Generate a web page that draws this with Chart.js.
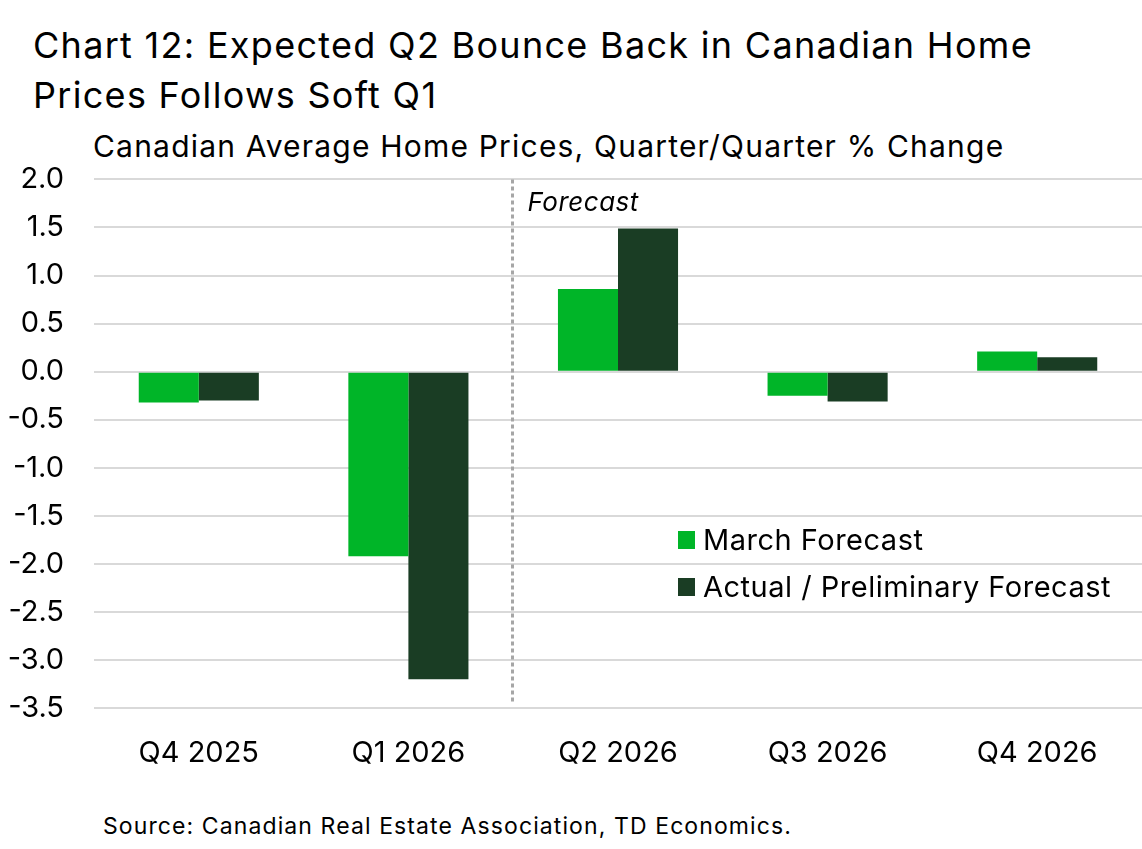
<!DOCTYPE html>
<html>
<head>
<meta charset="utf-8">
<script src="https://cdn.jsdelivr.net/npm/chart.js@4"></script>
<style>
  body { margin: 0; background: #fff; font-family: Inter, sans-serif; color: #000; }
  #title { position: absolute; left: 33px; top: 20px; font-size: 36px; line-height: 50px; letter-spacing: 1.3px; }
  #sub { position: absolute; left: 93px; top: 128px; font-size: 30px; line-height: 36px; letter-spacing: 1.2px; }
  #wrap { position: absolute; left: 0; top: 132px; width: 1142px; height: 679px; }
  #src { position: absolute; left: 103px; top: 812px; font-size: 23px; line-height: 28px; letter-spacing: 1.1px; }
</style>
</head>
<body>
<div id="title">Chart 12: Expected Q2 Bounce Back in Canadian Home<br>Prices Follows Soft Q1</div>
<div id="sub">Canadian Average Home Prices, Quarter/Quarter % Change</div>
<div id="wrap"><canvas id="chart"></canvas></div>
<div id="src">Source: Canadian Real Estate Association, TD Economics.</div>
<script>
const quarters = ['Q4 2025', 'Q1 2026', 'Q2 2026', 'Q3 2026', 'Q4 2026'];
const marchForecast = [-0.32, -1.92, 0.86, -0.25, 0.21];
const actualPrelim = [-0.30, -3.20, 1.49, -0.31, 0.15];
const yMin = -3.5, yMax = 2.0, yStep = 0.5;
const forecastStart = 2; // first forecast category index

const font = 'Inter, sans-serif';

// dotted divider, "Forecast" label and legend drawn inside the plot
const extras = {
  id: 'extras',
  afterDatasetsDraw(chart) {
    const { ctx, chartArea, scales } = chart;
    const x = Math.round((scales.x.getPixelForValue(forecastStart - 1) + scales.x.getPixelForValue(forecastStart)) / 2) - 0.5;
    ctx.save();
    ctx.strokeStyle = '#a6a6a6';
    ctx.lineWidth = 3;
    ctx.setLineDash([4, 3]);
    ctx.beginPath();
    ctx.moveTo(x, chartArea.top);
    ctx.lineTo(x, chartArea.bottom - 5);
    ctx.stroke();
    ctx.setLineDash([]);

    ctx.fillStyle = '#000';
    ctx.letterSpacing = '0.5px';
    ctx.font = 'italic 26px ' + font;
    ctx.textBaseline = 'middle';
    ctx.fillText('Forecast', x + 15, chartArea.top + 24);

    ctx.font = '29px ' + font;
    chart.data.datasets.forEach((ds, i) => {
      const ly = 408 + i * 47;
      ctx.fillStyle = ds.backgroundColor;
      ctx.fillRect(678, ly - 9, 17, 18);
      ctx.fillStyle = '#000';
      ctx.fillText(ds.label, 703, ly + 1);
    });
    ctx.restore();
  }
};

new Chart(document.getElementById('chart'), {
  type: 'bar',
  data: {
    labels: quarters,
    datasets: [
      { label: 'March Forecast', data: marchForecast, backgroundColor: '#00b528' },
      { label: 'Actual / Preliminary Forecast', data: actualPrelim, backgroundColor: '#1a3d24' }
    ]
  },
  options: {
    responsive: true,
    maintainAspectRatio: false,
    animation: false,
    layout: { padding: { top: 17, right: 0, left: 4, bottom: 20 } },
    datasets: { bar: { barPercentage: 1, categoryPercentage: 0.573 } },
    plugins: { legend: { display: false }, tooltip: { enabled: false } },
    scales: {
      x: {
        grid: { display: false },
        border: { display: false },
        ticks: { color: '#000', font: { family: font, size: 29 }, padding: 20 }
      },
      y: {
        min: yMin, max: yMax,
        afterFit: s => { s.width = 90; },
        grid: { color: '#d9d9d9', lineWidth: 2, drawTicks: false },
        border: { display: false },
        ticks: {
          stepSize: yStep, color: '#000', padding: 30,
          font: { family: font, size: 29 },
          callback: v => v.toFixed(1)
        }
      }
    }
  },
  plugins: [extras]
});
</script>
</body>
</html>
